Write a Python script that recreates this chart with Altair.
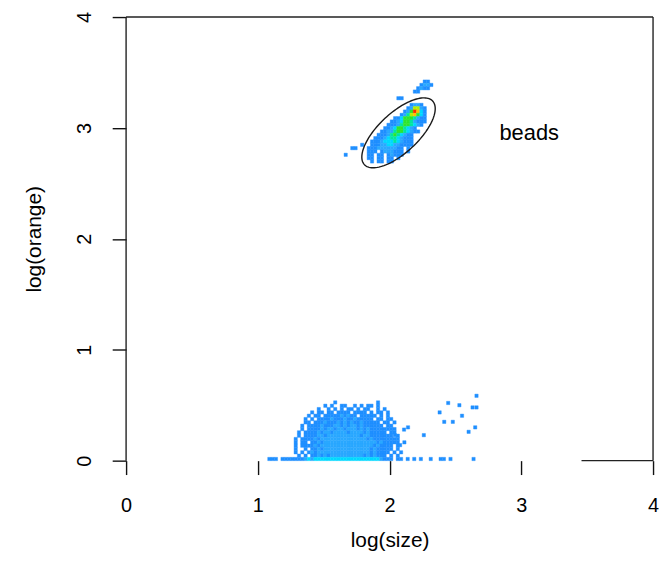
import altair as alt
import pandas as pd
import numpy as np

# ---------------- data ----------------
X_TICKS = [0, 1, 2, 3, 4]
Y_TICKS = [0, 1, 2, 3, 4]

LEVEL_COLORS = {
    "1": "#1f8fff", "2": "#2aa8ff", "3": "#00d8ff", "4": "#00e6a0",
    "5": "#2ee62e", "6": "#b4f000", "7": "#ffc000", "8": "#ff2a00",
}
BIN_W = 0.025
BIN_H = 0.03

# bead population: (row from top, first column, density levels)
BEAD_X0 = 1.6045
BEAD_YTOP = 3.463
BEAD_ROWS = [
    (1, 26, "11"), (2, 25, "1221"), (3, 24, "1211"), (4, 23, "11"),
    (6, 18, "11"),
    (8, 22, "1221"), (9, 21, "126621"), (10, 20, "1258731"),
    (11, 19, "12467531"), (12, 17, "1135554211"), (13, 16, "11235542111"),
    (14, 15, "11124554321"), (15, 14, "1123554321"), (16, 13, "112245543211"),
    (17, 12, "11124543211"), (18, 11, "111234432111"), (19, 10, "1112333432111"),
    (20, 7, "1..1112233221111"), (21, 4, "11...11122222211.1"),
    (22, 9, "111.1222111.1"), (23, 2, "1......11.11.12111"),
    (24, 9, "11.11.11.1"), (25, 10, "1.11.11"),
]

# cell population near the x axis: (row above baseline, first column, levels)
LOW_X0 = 1.25
LOW_ROWS = [
    (17, 13, "1............1"),
    (16, 10, "1.1..11..1.1.11.1"),
    (15, 8, "1..1.1.1.11.1.11..1.1"),
    (14, 6, "1.11.11.1111.1111.1.11.1"),
    (13, 5, "1.11.1111121211.11111.1.1"),
    (12, 4, "1.1.11112111211211111.11.11"),
    (11, 4, "11.11121112121211211111.11.1"),
    (10, 3, "1.11112111221212212111111.11"),
    (9, 3, "1.111121221221222121211111111"),
    (8, 2, "1.1111212212222122221211111.11"),
    (7, 2, "1.111122122222222221221111111.1"),
    (6, 1, "1.111121222222222222221211111111"),
    (5, 1, "1.11.112122222222222222221211111.1"),
    (4, 1, "1.1111212222222222222222121111.1"),
    (3, 1, "1..1.1121222222222222221211111.1"),
    (2, 1, "1.1.1212222222222222222121111.1.1"),
    (1, 2, "1.1.11212122222222221212111.1.1"),
]

# values piled on log(orange) = 0
BASE_X0 = 1.05
BASE_ROW = ".111.1111111" + "232333333333333333333332" + "111.11.1.1.1..1..11.1......1"

# isolated events right of the low population
SCATTER_X = [2.04, 2.08, 2.11, 2.14, 2.26, 2.38, 2.415, 2.445, 2.48, 2.53,
             2.55, 2.60, 2.63, 2.65, 2.66, 2.66]
SCATTER_Y = [0.23, 0.14, 0.28, 0.30, 0.23, 0.435, 0.35, 0.52, 0.35, 0.50,
             0.405, 0.26, 0.48, 0.30, 0.48, 0.585]

# gate ellipse (centre in data units, semi-axes in pixels, angle in degrees)
GATE_CENTER = (2.068, 2.956)
GATE_A_PX = 47
GATE_B_PX = 20
GATE_ANGLE = 43
PX_PER_X = 132.75
PX_PER_Y = 111.75

LABEL_TEXT = "beads"
LABEL_POS = (3.06, 2.95)

FONT = "Liberation Sans"

# ---------------- build tables ----------------
cells = []
for r, c0, s in BEAD_ROWS:
    for i, ch in enumerate(s):
        if ch in LEVEL_COLORS:
            x = BEAD_X0 + (c0 + i) * BIN_W
            y2 = BEAD_YTOP - r * BIN_H
            cells.append((x, x + BIN_W, y2 - BIN_H, y2, LEVEL_COLORS[ch]))
for k, c0, s in LOW_ROWS:
    for i, ch in enumerate(s):
        if ch in LEVEL_COLORS:
            x = LOW_X0 + (c0 + i) * BIN_W
            y = k * BIN_H
            cells.append((x, x + BIN_W, y, y + BIN_H, LEVEL_COLORS[ch]))
for i, ch in enumerate(BASE_ROW):
    if ch in LEVEL_COLORS:
        x = BASE_X0 + i * BIN_W
        cells.append((x, x + BIN_W, 0.0, BIN_H, LEVEL_COLORS[ch]))
for sx, sy in zip(SCATTER_X, SCATTER_Y):
    cells.append((sx - BIN_W / 2, sx + BIN_W / 2, sy - BIN_H / 2, sy + BIN_H / 2,
                  LEVEL_COLORS["1"]))
cells_df = pd.DataFrame(cells, columns=["x", "x2", "y", "y2", "c"])

t = np.linspace(0, 2 * np.pi, 121)
th = np.deg2rad(GATE_ANGLE)
ex_px = GATE_A_PX * np.cos(t) * np.cos(th) - GATE_B_PX * np.sin(t) * np.sin(th)
ey_px = GATE_A_PX * np.cos(t) * np.sin(th) + GATE_B_PX * np.sin(t) * np.cos(th)
ell_df = pd.DataFrame({
    "x": GATE_CENTER[0] + ex_px / PX_PER_X,
    "y": GATE_CENTER[1] + ey_px / PX_PER_Y,
    "i": np.arange(len(t)),
})

frame_df = pd.DataFrame({
    "x": [0, 0, 4, 3.457],
    "y": [0, 4, 0, 0],
    "x2": [0, 4, 4, 4],
    "y2": [4, 4, 4, 0],
})

label_df = pd.DataFrame({"x": [LABEL_POS[0]], "y": [LABEL_POS[1]], "t": [LABEL_TEXT]})

# ---------------- chart ----------------
xs = alt.Scale(domain=[0, 4], nice=False, zero=False)
ys = alt.Scale(domain=[0, 4], nice=False, zero=False)

x_axis = alt.Axis(values=X_TICKS, domain=False, grid=False, tickSize=14,
                  tickColor="#111111", tickWidth=1.4, labelFont=FONT,
                  labelFontSize=20, labelColor="#000000", labelPadding=21,
                  labelFlush=False, format="d", title="log(size)",
                  titleFont=FONT, titleFontSize=21, titleFontWeight="normal",
                  titleColor="#000000", titlePadding=15)
y_axis = alt.Axis(values=Y_TICKS, domain=False, grid=False, tickSize=14,
                  tickColor="#111111", tickWidth=1.4, labelFont=FONT,
                  labelFontSize=20, labelColor="#000000", labelPadding=18,
                  labelAngle=270, labelAlign="center", labelBaseline="bottom",
                  labelFlush=False, format="d", title="log(orange)",
                  titleFont=FONT, titleFontSize=21, titleFontWeight="normal",
                  titleColor="#000000", titlePadding=30)

X = alt.X("x:Q", scale=xs, axis=x_axis)
Y = alt.Y("y:Q", scale=ys, axis=y_axis)

rects = alt.Chart(cells_df).mark_rect(strokeWidth=0.4).encode(
    x=X, x2="x2:Q", y=Y, y2="y2:Q",
    color=alt.Color("c:N", scale=None),
    stroke=alt.Stroke("c:N", scale=None),
)

ellipse = alt.Chart(ell_df).mark_line(color="#1a1a1a", strokeWidth=1.4).encode(
    x=X, y=Y, order="i:Q",
)

frame = alt.Chart(frame_df).mark_rule(color="#222222", strokeWidth=1.4).encode(
    x=X, y=Y, x2="x2:Q", y2="y2:Q",
)

label = alt.Chart(label_df).mark_text(font=FONT, fontSize=22, color="#000000",
                                      align="center", baseline="middle").encode(
    x=X, y=Y, text="t:N",
)

chart = alt.layer(rects, frame, ellipse, label).properties(
    width=531, height=447,
    padding={"left": 119, "top": 7, "right": 6, "bottom": 100},
    autosize=alt.AutoSizeParams(type="none"),
).configure_view(stroke=None)

chart.save("out.html", embed_options={"renderer": "svg", "actions": False})
